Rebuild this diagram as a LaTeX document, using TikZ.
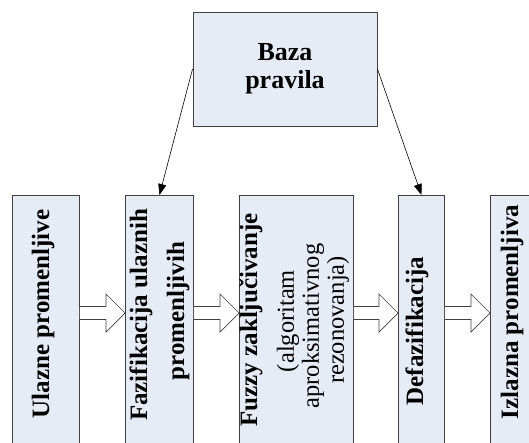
\documentclass[tikz,border=0pt]{standalone}
\usepackage{fontspec}
\setmainfont{Liberation Serif}
\usetikzlibrary{arrows.meta,calc}
\definecolor{boxfill}{RGB}{230,236,246}
\definecolor{boxline}{RGB}{64,64,64}
\begin{document}
\begin{tikzpicture}[x=1pt,y=-1pt,
  stage/.style={draw=boxline, fill=boxfill, line width=0.9pt, inner sep=0pt, anchor=north west, minimum height=270pt},
  vlabel/.style={rotate=90, inner sep=0pt, font=\fontsize{25}{30}\selectfont\bfseries},
  vnote/.style={rotate=90, inner sep=0pt, font=\fontsize{24.5}{28}\selectfont},
  feed/.style={draw=black, line width=0.6pt, -{Triangle[length=11pt,width=8pt]}},
  hollow/.style={draw=boxline, fill=white, line width=0.7pt, line join=miter}]
\clip (0,0) rectangle (529,442);

% rule base on top
\node[stage, anchor=center, minimum width=184pt, minimum height=114pt, align=center,
      font=\fontsize{26}{28}\selectfont\bfseries] (baza) at (285,69) {Baza\\pravila};

% processing stages (bottom edges run off the page)
\node[stage, minimum width=67pt]  (b1) at (12,195)  {};
\node[stage, minimum width=68pt]  (b2) at (125,195) {};
\node[stage, minimum width=114pt] (b3) at (239,195) {};
\node[stage, minimum width=46pt]  (b4) at (398,195) {};
\node[stage, minimum width=44pt]  (b5) at (490,195) {};

% stage labels, read bottom to top
\node[vlabel] (t1)  at (43,314)  {Ulazne promenljive};
\node[vlabel] (t2a) at (141,315) {Fazifikacija ulaznih};
\node[vlabel] (t2b) at (178,311) {promenljivih};
\node[vlabel] (t3a) at (251,320) {Fuzzy zaključivanje};
\node[vnote]  (t3b) at (288,321) {(algoritam};
\node[vnote]  (t3c) at (313,326) {aproksimativnog};
\node[vnote]  (t3d) at (338,320) {rezonovanja)};
\node[vlabel] (t4)  at (417,331) {Defazifikacija};
\node[vlabel] (t5)  at (512,312) {Izlazna promenljiva};

% hollow block arrows between stages
\coordinate (row) at (0,313);
\foreach \a/\b in {b1/b2,b2/b3,b3/b4,b4/b5} {
  \draw[hollow] ($(\a.east|-row)+(0,-6.5)$) -- ($(\b.west|-row)+(-19,-6.5)$)
    -- ($(\b.west|-row)+(-19,-19)$) -- (\b.west|-row) -- ($(\b.west|-row)+(-19,19)$)
    -- ($(\b.west|-row)+(-19,6.5)$) -- ($(\a.east|-row)+(0,6.5)$);
}

% rule base feeds fuzzification and defuzzification
\draw[feed] (baza.west) -- (b2.north);
\draw[feed] (baza.east) -- (b4.north);
\end{tikzpicture}
\end{document}
